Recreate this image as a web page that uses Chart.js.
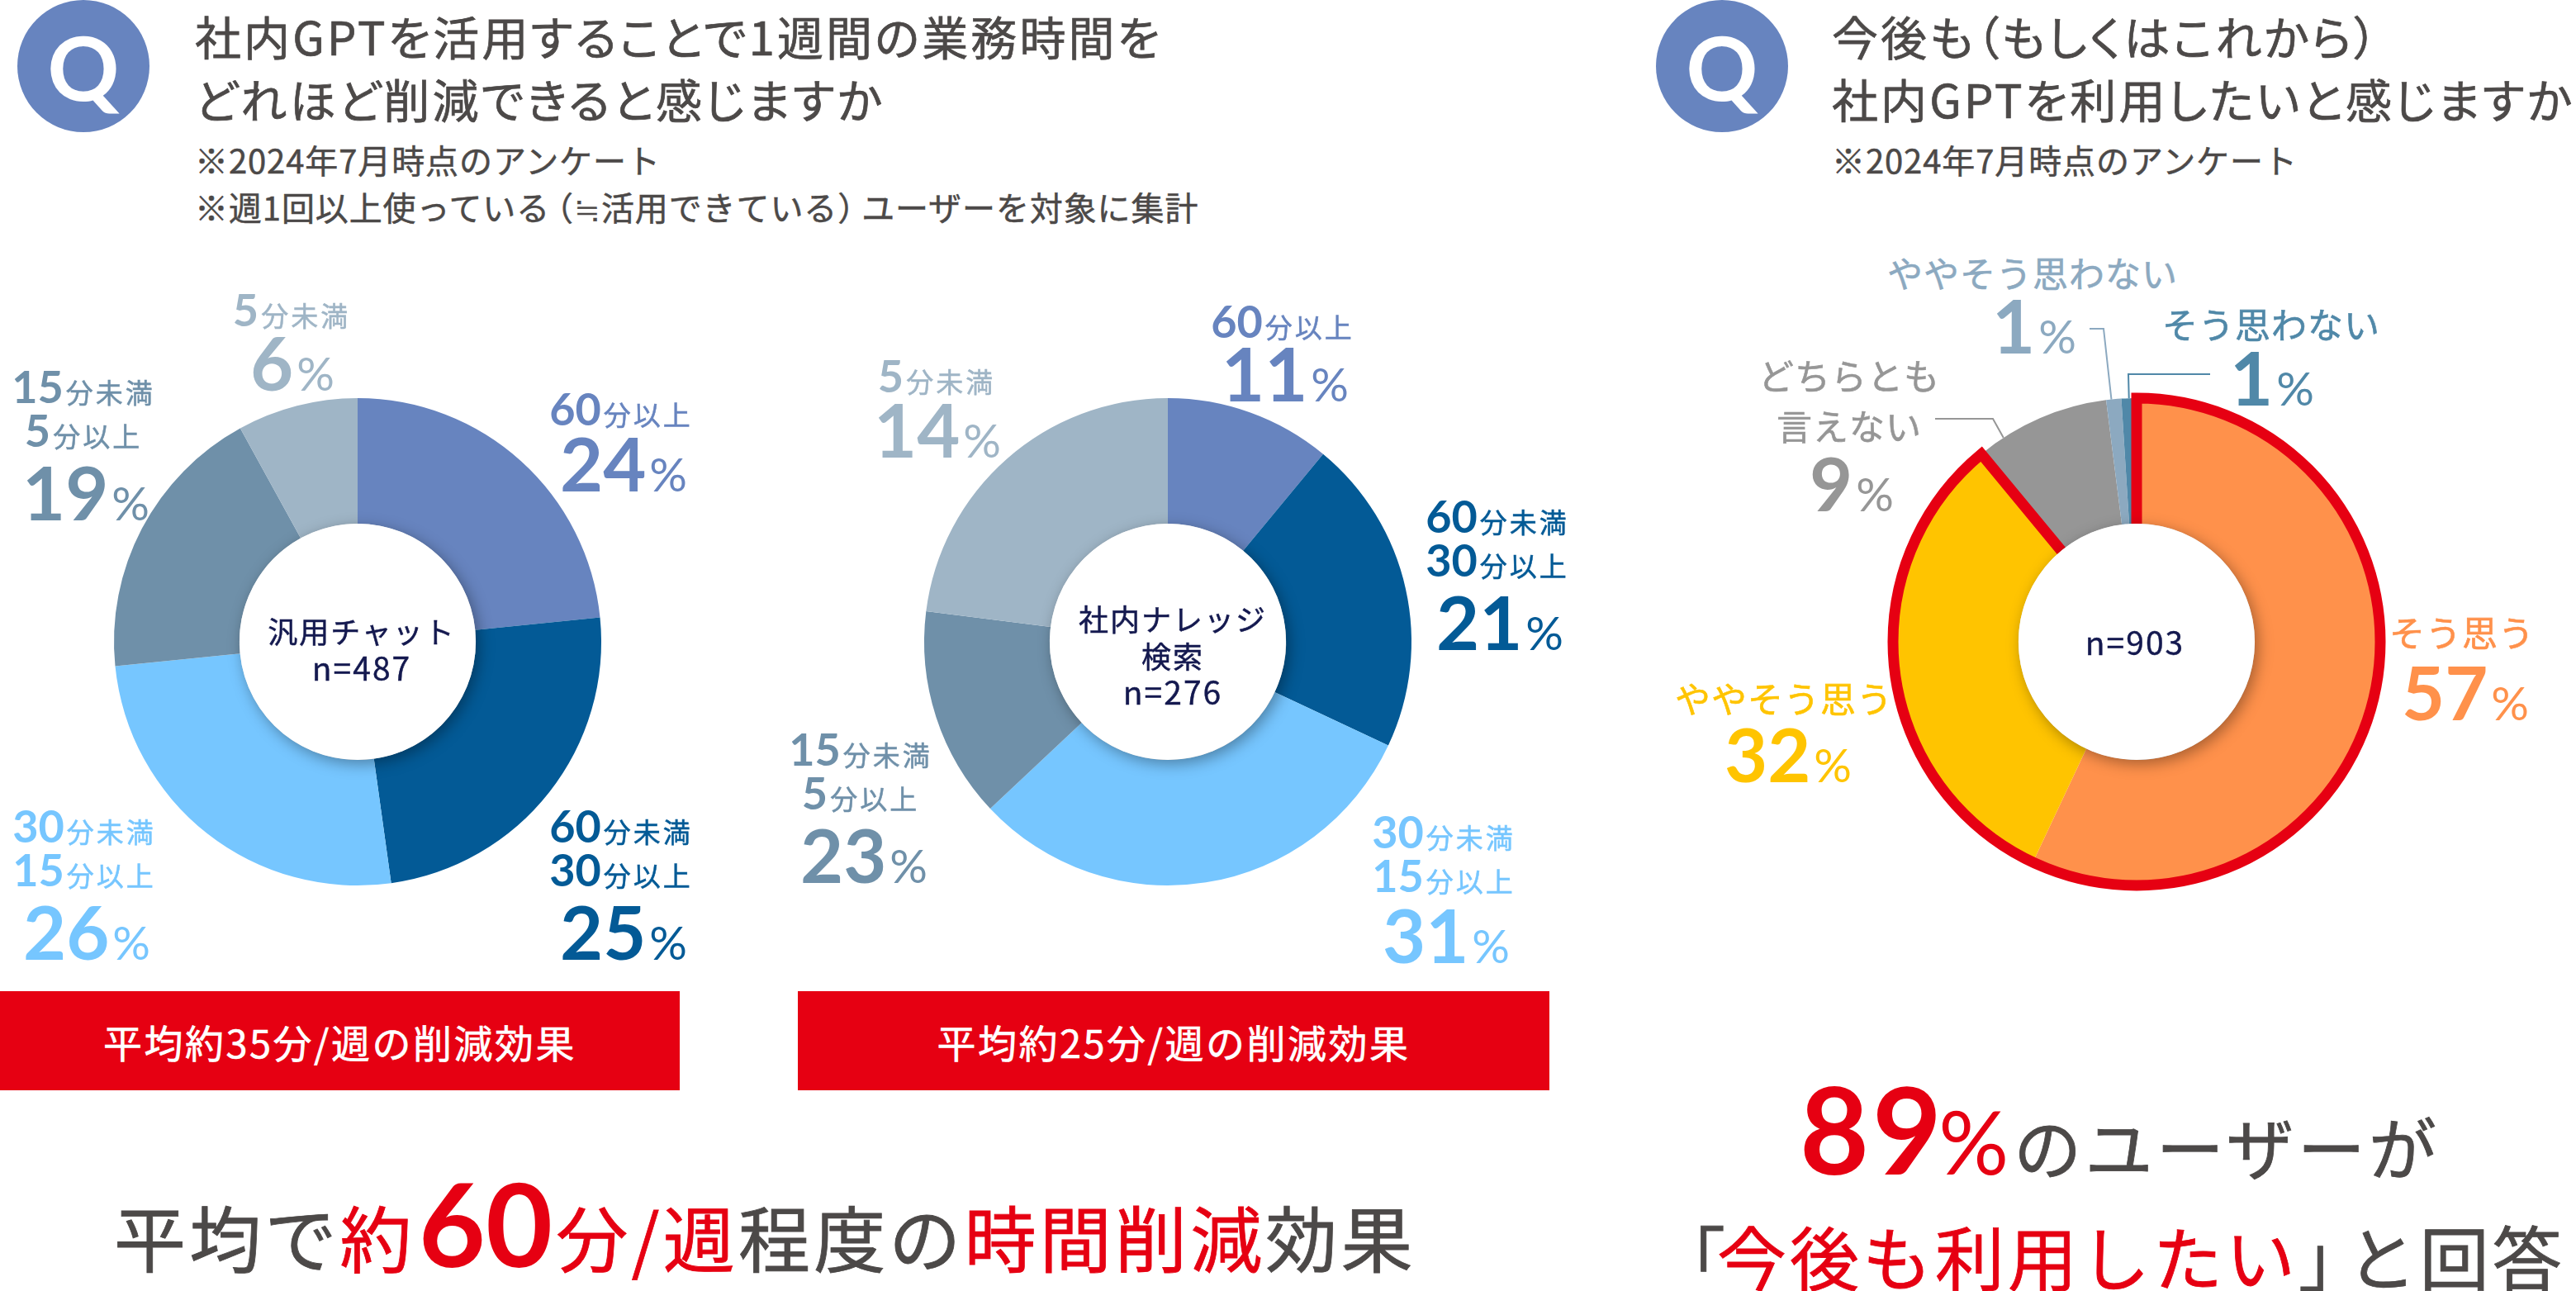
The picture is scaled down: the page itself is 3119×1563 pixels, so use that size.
<!DOCTYPE html>
<html lang="ja"><head><meta charset="utf-8">
<script src="https://cdn.jsdelivr.net/npm/chart.js@4"></script>
<style>
html,body{margin:0;padding:0;background:#fff;}
#page{position:relative;width:3119px;height:1563px;overflow:hidden;background:#fff;font-family:"Noto Sans CJK JP","Noto Sans",sans-serif;color:#4c4948;}
canvas{position:absolute;}
.t{position:absolute;white-space:nowrap;line-height:1;}
.c{transform:translate(-50%,-50%);}
.d{font-family:Lato,"Noto Sans",sans-serif;font-weight:700;}
.u{-webkit-text-stroke:.5px currentColor;}
.badge{position:absolute;width:160px;height:160px;border-radius:50%;background:#6784bf;color:#fff;font:700 108px Lato,sans-serif;display:flex;align-items:center;justify-content:center;}
.bar{position:absolute;background:#e60012;color:#fff;display:flex;align-items:center;justify-content:center;font-size:47px;letter-spacing:2.5px;-webkit-text-stroke:.6px #fff;}
.r{color:#e60012;}
.po{margin-left:-.3em;}
.pc{margin-right:-.3em;}
</style></head><body><div id="page"></div>
<script>
// ---- chart data ----
const categoriesTime = ['60分以上','60分未満|30分以上','30分未満|15分以上','15分未満|5分以上','5分未満'];
const generalSlices = [23.4,24.4,25.6,18.6,8.0];   // drawn slice sizes
const generalLabels = [24,25,26,19,6];             // printed percentages
const knowledgeSlices = [11,21,31,14,23];          // drawn slice sizes
const knowledgeLabels = [11,21,31,23,14];          // printed percentages
const categoriesIntent = ['そう思う','ややそう思う','どちらとも|言えない','ややそう思わない','そう思わない'];
const intentValues = [57,32,9,1,1];
const timeColors = ['#6784bf','#035a96','#76c6ff','#6f90a9','#9fb5c6'];
const intentColors = ['#ff914b','#ffc400','#969696','#8ca9c0','#5088a8'];

// ---- layout ----
const page = document.getElementById('page');
const CANVAS = 800, PAD = 105, SCALE_CUT = '48.5%';
function text(x,y,html,style,centered=true){
  const e=document.createElement('div');e.className='t'+(centered?' c':'');
  e.style.left=x+'px';e.style.top=y+'px';e.innerHTML=html;
  if(style)e.style.cssText+=';'+style;page.appendChild(e);return e;
}
function minutes(label,color,cx,cy,numSize=54,unitSize=33){
  const m=label.match(/^(\d+)(.*)$/);
  text(cx,cy,`<span class="d" style="font-size:${numSize}px">${m[1]}</span><span class="u" style="font-size:${unitSize}px;letter-spacing:3px;margin-left:3px">${m[2]}</span>`,`color:${color}`);
}
function pct(v,color,cx,cy,num=90,unit=57){
  text(cx,cy,`<span class="d" style="font-size:${num}px">${v}</span><span style="font-family:Lato;font-weight:400;font-size:${unit}px;margin-left:4px">%</span>`,`color:${color}`);
}
const ringPlugin={id:'ring',afterDatasetsDraw(chart,args,o){
  const meta=chart.getDatasetMeta(0),ctx=chart.ctx,a=meta.data[0];
  const cx=a.x,cy=a.y,R=a.outerRadius,r=a.innerRadius;
  ctx.save();
  if(o.outlineTo!==undefined){
    const s=meta.data[0].startAngle,e=meta.data[o.outlineTo].endAngle;
    ctx.strokeStyle='#e60012';ctx.lineWidth=13;ctx.lineJoin='miter';ctx.miterLimit=10;
    ctx.beginPath();ctx.moveTo(cx+r*Math.cos(s),cy+r*Math.sin(s));
    ctx.lineTo(cx+R*Math.cos(s),cy+R*Math.sin(s));ctx.arc(cx,cy,R,s,e);
    ctx.lineTo(cx+r*Math.cos(e),cy+r*Math.sin(e));ctx.stroke();
    (o.leaders||[]).forEach(l=>{
      const el=meta.data[l.i],ang=el.startAngle+(el.endAngle-el.startAngle)*l.t;
      ctx.strokeStyle=intentColors[l.i];ctx.lineWidth=2;ctx.beginPath();
      ctx.moveTo(cx+l.tail[0],cy+l.tail[1]);
      ctx.lineTo(cx+l.knee[0],cy+l.knee[1]);
      ctx.lineTo(cx+R*Math.cos(ang),cy+R*Math.sin(ang));ctx.stroke();
    });
  }
  ctx.shadowColor='rgba(0,0,0,0.35)';ctx.shadowBlur=18;ctx.shadowOffsetX=4;ctx.shadowOffsetY=5;
  ctx.fillStyle='#fff';ctx.beginPath();ctx.arc(cx,cy,r,0,Math.PI*2);ctx.fill();
  ctx.restore();
}};
function donut(cx,cy,values,labels,colors,ring={}){
  const c=document.createElement('canvas');c.width=CANVAS;c.height=CANVAS;
  c.style.cssText=`left:${cx-CANVAS/2}px;top:${cy-CANVAS/2}px;width:${CANVAS}px;height:${CANVAS}px`;
  page.appendChild(c);
  new Chart(c,{type:'doughnut',plugins:[ringPlugin],data:{labels,datasets:[{data:values,backgroundColor:colors,borderWidth:0,hoverOffset:0}]},
    options:{responsive:false,animation:false,devicePixelRatio:1,cutout:SCALE_CUT,layout:{padding:PAD},
      plugins:{legend:{display:false},tooltip:{enabled:false},ring}}});
}
donut(433,777,generalSlices,categoriesTime,timeColors);
donut(1414,777,knowledgeSlices,categoriesTime,timeColors);
donut(2587,777,intentValues,categoriesIntent,intentColors,{outlineTo:1,leaders:[
  {i:4,t:.5,tail:[89,-324],knee:[-10,-324]},
  {i:3,t:.35,tail:[-57,-379],knee:[-40,-379]},
  {i:2,t:.2,tail:[-244,-270],knee:[-174,-270]}]});

// ---- headers ----
function badge(x){const b=document.createElement('div');b.className='badge';b.style.left=x+'px';b.style.top='0';b.textContent='Q';page.appendChild(b);}
badge(21);badge(2005);
const head='font-size:56px;letter-spacing:3.1px;-webkit-text-stroke:.7px currentColor;font-feature-settings:"palt";';
const note='font-size:40px;letter-spacing:.9px;-webkit-text-stroke:.5px currentColor;';
const PO='<span class="po">（</span>',PC='<span class="pc">）</span>';
text(236,15,'社内GPTを活用することで1週間の業務時間を',head,false);
text(236,91,'どれほど削減できると感じますか',head,false);
text(236,173,'※2024年7月時点のアンケート',note,false);
text(236,230,`※週1回以上使っている${PO}≒活用できている${PC}ユーザーを対象に集計`,note,false);
text(2218,15,'今後も（もしくはこれから）',head,false);
text(2218,91,'社内GPTを利用したいと感じますか',head,false);
text(2218,173,'※2024年7月時点のアンケート',note,false);

// ---- labels, charts 1 and 2 ----
const lines=s=>s.split('|');
const L1=[[752,495,755,560],[752,1000,755,1127],[102,1000,105,1127],[101,468,104,595],[353,375,354,438]];
const L2=[[1553,389,1556,451],[1813,625,1816,752],[1748,1007,1751,1131],[1042,907,1046,1034],[1134,455,1135,519]];
[[L1,generalLabels],[L2,knowledgeLabels]].forEach(([L,vals])=>{
  categoriesTime.forEach((cat,i)=>{
    const [x,y,px,py]=L[i];
    lines(cat).forEach((ln,k)=>minutes(ln,timeColors[i],x,y+k*53));
    pct(vals[i],timeColors[i],px,py);
  });
});
const navy='color:#14194f;letter-spacing:2px;font-size:36px;-webkit-text-stroke:.5px #14194f;';
const navyN='color:#14194f;letter-spacing:2px;font-size:39px;-webkit-text-stroke:.4px #14194f;';
text(438,763,'汎用チャット',navy);text(438,807,'n=487',navyN);
text(1420,748,'社内ナレッジ',navy);text(1420,793,'検索',navy);text(1420,836,'n=276',navyN);
text(2585,776,'n=903',navyN);

// ---- labels, chart 3 ----
const L3=[[2981,764,2985,837],[2160,844,2165,912],[2239,453,2242,584],[2461,329,2463,393],[2750,391,2751,456]];
categoriesIntent.forEach((cat,i)=>{
  const [x,y,px,py]=L3[i];
  lines(cat).forEach((ln,k)=>text(x,y+k*61,ln,`color:${intentColors[i]};font-size:43px;letter-spacing:1px;-webkit-text-stroke:.6px currentColor`));
  pct(intentValues[i],intentColors[i],px,py);
});

// ---- banners ----
function bar(x,w,t){const b=document.createElement('div');b.className='bar';b.style.cssText+=`;left:${x}px;top:1200px;width:${w}px;height:120px`;b.textContent=t;page.appendChild(b);}
bar(0,823,'平均約35分/週の削減効果');bar(966,910,'平均約25分/週の削減効果');

// ---- conclusions ----
const big='font-size:87px;letter-spacing:4.2px;-webkit-text-stroke:.8px currentColor;';
const big2='font-size:84px;letter-spacing:4px;-webkit-text-stroke:.8px currentColor;';
text(138,1445,`平均で<span class="r">約<span class="d" style="font-size:140px;line-height:.5;letter-spacing:0;margin:0 4px;-webkit-text-stroke:0">60</span>分/週</span>程度の<span class="r">時間削減</span>効果`,big,false);
text(2179,1330,`<span class="r"><span class="d" style="font-size:145px;line-height:.5;-webkit-text-stroke:0">89</span><span style="font-family:Lato;font-size:106px;font-weight:400;line-height:.5;margin:0 6px 0 -8px;letter-spacing:0;-webkit-text-stroke:0">%</span></span><span style="font-size:82px;letter-spacing:4.3px">のユーザーが</span>`,big2,false);
text(2005,1478,`<span style="margin-right:-14px">「</span><span class="r">今後も利用したい</span>」<span style="margin-left:-.35em">と回答</span>`,big2,false);
</script></body></html>
